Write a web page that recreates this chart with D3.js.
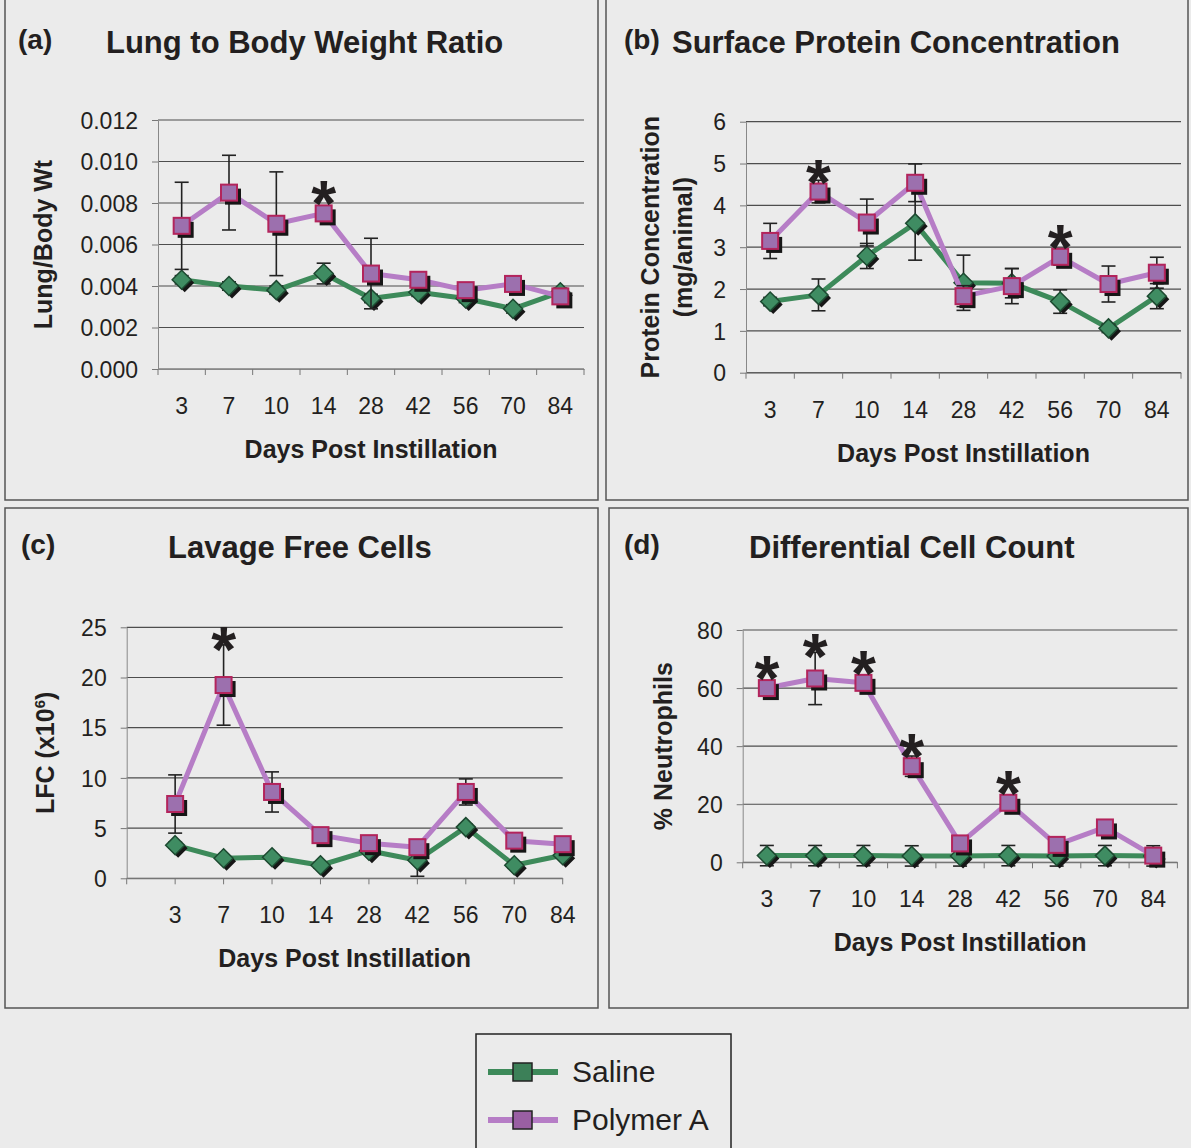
<!DOCTYPE html>
<html>
<head>
<meta charset="utf-8">
<script src="https://cdn.jsdelivr.net/npm/d3@7"></script>
<style>
  body { margin: 0; background: #ebebeb; }
  svg { display: block; }
  text { font-family: "Liberation Sans", Arial, sans-serif; fill: #231f20; }
</style>
</head>
<body>
<div id="chart"></div>
<script>
// categories (days post instillation)
var days = ["3", "7", "10", "14", "28", "42", "56", "70", "84"];
var seriesNames = ["Saline", "Polymer A"];

// (a) lung to body weight ratio
var lungSaline = [0.0043, 0.0040, 0.0038, 0.0046, 0.0034, 0.0037, 0.0034, 0.0029, 0.0037];
var lungSalineErr = [0.0002, 0.0002, 0.0002, 0.0005, 0.0002, 0.0002, 0.0002, 0.0002, 0.0002];
var lungPolymer = [0.0069, 0.0085, 0.0070, 0.0075, 0.0046, 0.0043, 0.0038, 0.0041, 0.0035];
var lungPolymerErr = [0.0021, 0.0018, 0.0025, 0.0003, 0.0017, 0.0003, 0.0002, 0.0003, 0.0002];
var lungStars = ["14"];
var lungTicks = [0, 0.002, 0.004, 0.006, 0.008, 0.010, 0.012];

// (b) surface protein concentration
var proteinSaline = [1.70, 1.86, 2.79, 3.57, 2.15, 2.14, 1.70, 1.06, 1.83];
var proteinSalineErr = [0.10, 0.38, 0.30, 0.88, 0.66, 0.35, 0.28, 0.10, 0.30];
var proteinPolymer = [3.15, 4.33, 3.59, 4.54, 1.83, 2.07, 2.77, 2.12, 2.39];
var proteinPolymerErr = [0.42, 0.27, 0.56, 0.45, 0.25, 0.42, 0.20, 0.43, 0.37];
var proteinStars = ["7", "56"];
var proteinTicks = [0, 1, 2, 3, 4, 5, 6];

// (c) lavage free cells
var lfcSaline = [3.3, 2.0, 2.1, 1.3, 2.75, 1.8, 5.1, 1.3, 2.3];
var lfcSalineErr = [0.3, 0.2, 0.2, 0.3, 0.3, 1.6, 0.3, 0.3, 0.3];
var lfcPolymer = [7.4, 19.25, 8.6, 4.3, 3.5, 3.1, 8.6, 3.75, 3.4];
var lfcPolymerErr = [2.9, 4.0, 2.0, 0.4, 0.3, 0.5, 1.3, 0.4, 0.3];
var lfcStars = ["7"];
var lfcTicks = [0, 5, 10, 15, 20, 25];

// (d) differential cell count
var neutSaline = [2.3, 2.3, 2.3, 2.2, 2.2, 2.3, 2.2, 2.3, 2.2];
var neutSalineErr = [3.5, 3.5, 3.5, 3.5, 3.5, 3.5, 3.5, 3.5, 3.5];
var neutPolymer = [60, 63.3, 61.8, 33.1, 6.5, 20.5, 6.0, 12.0, 2.3];
var neutPolymerErr = [1.5, 9, 1.5, 3.5, 1, 1.5, 1, 1.5, 0.5];
var neutStars = ["3", "7", "10", "14", "42"];
var neutTicks = [0, 20, 40, 60, 80];

var svg = d3.select("#chart").append("svg")
  .attr("width", 1191)
  .attr("height", 1148);

svg.append("rect").attr("width", 1191).attr("height", 1148).attr("fill", "#ebebeb");

var panels = [
  {letter: "(a)", title: "Lung to Body Weight Ratio", box: [5, -5, 598, 500],
   lx: 18, tx: 106, ty: 53, x0: 158, x1: 584, y0: 369, y1: 120, mode: "band",
   ticks: lungTicks, fmt: d3.format(".3f"), ylab: ["Lung/Body Wt"], ylabX: [52],
   saline: lungSaline, salineErr: lungSalineErr, polymer: lungPolymer, polymerErr: lungPolymerErr, stars: lungStars},
  {letter: "(b)", title: "Surface Protein Concentration", box: [606, -5, 1188, 500],
   lx: 624, tx: 672, ty: 53, x0: 746, x1: 1181, y0: 372.7, y1: 121.7, mode: "band",
   ticks: proteinTicks, fmt: d3.format("d"), ylab: ["Protein Concentration", "(mg/animal)"], ylabX: [659, 692],
   saline: proteinSaline, salineErr: proteinSalineErr, polymer: proteinPolymer, polymerErr: proteinPolymerErr, stars: proteinStars},
  {letter: "(c)", title: "Lavage Free Cells", box: [5, 508, 598, 1008],
   lx: 21, tx: 168, ty: 558, x0: 126.7, x1: 562.7, y0: 878.3, y1: 627.3, mode: "point",
   ticks: lfcTicks, fmt: d3.format("d"), ylab: ["LFC"], ylabX: [54],
   saline: lfcSaline, salineErr: lfcSalineErr, polymer: lfcPolymer, polymerErr: lfcPolymerErr, stars: lfcStars},
  {letter: "(d)", title: "Differential Cell Count", box: [609, 508, 1188, 1008],
   lx: 624, tx: 749, ty: 558, x0: 742.7, x1: 1177.4, y0: 862.3, y1: 630, mode: "band",
   ticks: neutTicks, fmt: d3.format("d"), ylab: ["% Neutrophils"], ylabX: [672],
   saline: neutSaline, salineErr: neutSalineErr, polymer: neutPolymer, polymerErr: neutPolymerErr, stars: neutStars}
];

panels.forEach(function(p) {
  var g = svg.append("g");

  // panel frame
  g.append("rect")
    .attr("x", p.box[0]).attr("y", p.box[1])
    .attr("width", p.box[2] - p.box[0]).attr("height", p.box[3] - p.box[1])
    .attr("fill", "none").attr("stroke", "#555").attr("stroke-width", 1.5);

  // scales
  var x;
  if (p.mode == "band") {
    x = d3.scaleBand().domain(days).range([p.x0, p.x1]);
  } else {
    // points sit on the tick marks, one empty slot before the first day
    x = d3.scalePoint().domain([""].concat(days)).range([p.x0, p.x1]);
  }
  var cx = function(d) { return p.mode == "band" ? x(d) + x.bandwidth() / 2 : x(d); };
  var y = d3.scaleLinear().domain([p.ticks[0], p.ticks[p.ticks.length - 1]]).range([p.y0, p.y1]);

  // gridlines
  g.selectAll(".grid").data(p.ticks).enter().append("line")
    .attr("x1", p.x0).attr("x2", p.x1)
    .attr("y1", function(d) { return y(d); }).attr("y2", function(d) { return y(d); })
    .attr("stroke", "#4d4d4d").attr("stroke-width", 1.2);

  // y axis
  var yAxis = g.append("g")
    .attr("transform", "translate(" + p.x0 + ",0)")
    .call(d3.axisLeft(y).tickValues(p.ticks).tickFormat(p.fmt).tickSize(6).tickSizeOuter(0));
  yAxis.select(".domain").attr("stroke", "#888");
  yAxis.selectAll(".tick line").attr("stroke", "#777");
  yAxis.selectAll(".tick text")
    .attr("x", -20).attr("dy", "0.36em")
    .style("font-size", "23px").style("font-family", null).attr("fill", "#231f20");

  // x axis: labels, then tick marks at boundaries
  var xAxis = g.append("g")
    .attr("transform", "translate(0," + p.y0 + ")")
    .call(d3.axisBottom(x).tickSize(0).tickFormat(function(d) { return d; }));
  xAxis.select(".domain").attr("stroke", "#888");
  xAxis.selectAll(".tick").attr("transform", function(d) { return "translate(" + cx(d) + ",0)"; });
  xAxis.selectAll(".tick text")
    .attr("y", 45).attr("dy", null)
    .style("font-size", "23px").style("font-family", null).attr("fill", "#231f20");

  var tickPos = p.mode == "band"
    ? days.map(function(d) { return x(d); }).concat([p.x1])
    : x.domain().map(function(d) { return x(d); });
  g.selectAll(".xt").data(tickPos).enter().append("line")
    .attr("x1", function(d) { return d; }).attr("x2", function(d) { return d; })
    .attr("y1", p.y0).attr("y2", p.y0 + 6)
    .attr("stroke", "#777").attr("stroke-width", 1);

  // titles
  g.append("text").attr("x", p.lx).attr("y", p.ty - 4)
    .style("font-size", "28px").style("font-weight", "bold").text(p.letter);
  g.append("text").attr("x", p.tx).attr("y", p.ty)
    .style("font-size", "31px").style("font-weight", "bold").text(p.title);
  g.append("text").attr("x", (p.x0 + p.x1) / 2).attr("y", p.y0 + 89)
    .attr("text-anchor", "middle")
    .style("font-size", "25px").style("font-weight", "bold").text("Days Post Instillation");

  var midY = (p.y0 + p.y1) / 2;
  p.ylab.forEach(function(lab, i) {
    var t = g.append("text")
      .attr("transform", "translate(" + p.ylabX[i] + "," + midY + ") rotate(-90)")
      .attr("text-anchor", "middle")
      .style("font-size", "25px").style("font-weight", "bold");
    if (p.letter == "(c)") {
      t.append("tspan").text("LFC (x10");
      t.append("tspan").attr("dy", -9).style("font-size", "15px").text("6");
      t.append("tspan").attr("dy", 9).text(")");
    } else {
      t.text(lab);
    }
  });

  // series
  var series = [
    {vals: p.saline, err: p.salineErr, line: "#3d8a5a", kind: "diamond"},
    {vals: p.polymer, err: p.polymerErr, line: "#b67dc6", kind: "square"}
  ];

  series.forEach(function(s) {
    var pts = days.map(function(d, i) { return {day: d, v: s.vals[i], e: s.err[i]}; });

    var line = d3.line()
      .x(function(d) { return cx(d.day); })
      .y(function(d) { return y(d.v); });
    g.append("path").datum(pts)
      .attr("d", line).attr("fill", "none")
      .attr("stroke", s.line).attr("stroke-width", 5).attr("stroke-linejoin", "round");

    // error bars
    var eb = g.selectAll(null).data(pts).enter().append("g")
      .attr("stroke", "#222").attr("stroke-width", 1.6);
    eb.append("line")
      .attr("x1", function(d) { return cx(d.day); }).attr("x2", function(d) { return cx(d.day); })
      .attr("y1", function(d) { return y(d.v - d.e); }).attr("y2", function(d) { return y(d.v + d.e); });
    eb.append("line")
      .attr("x1", function(d) { return cx(d.day) - 7; }).attr("x2", function(d) { return cx(d.day) + 7; })
      .attr("y1", function(d) { return y(d.v + d.e); }).attr("y2", function(d) { return y(d.v + d.e); });
    eb.append("line")
      .attr("x1", function(d) { return cx(d.day) - 7; }).attr("x2", function(d) { return cx(d.day) + 7; })
      .attr("y1", function(d) { return y(d.v - d.e); }).attr("y2", function(d) { return y(d.v - d.e); });

    // markers with drop shadow
    var m = g.selectAll(null).data(pts).enter().append("g")
      .attr("transform", function(d) { return "translate(" + cx(d.day) + "," + y(d.v) + ")"; });
    if (s.kind == "square") {
      m.append("rect").attr("x", -8 + 4).attr("y", -8 + 4).attr("width", 16).attr("height", 16)
        .attr("fill", "#161616");
      m.append("rect").attr("x", -8).attr("y", -8).attr("width", 16).attr("height", 16)
        .attr("fill", "#9c70ae").attr("stroke", "#b3245c").attr("stroke-width", 2);
    } else {
      var dia = "M0,-9.5L9.5,0L0,9.5L-9.5,0Z";
      m.append("path").attr("d", dia).attr("transform", "translate(3,3)").attr("fill", "#161616");
      m.append("path").attr("d", dia)
        .attr("fill", "#3f8c62").attr("stroke", "#1d4a31").attr("stroke-width", 1.5);
    }
  });

  // significance stars
  p.stars.forEach(function(d) {
    var i = days.indexOf(d);
    var v = p.polymer[i], e = p.polymerErr[i];
    var cy = Math.min(y(v) - 24, y(v + e) - 10);
    g.append("text").attr("x", cx(d)).attr("y", cy + 37)
      .attr("text-anchor", "middle")
      .style("font-size", "64px").style("font-weight", "bold").text("*");
  });
});

// legend
var legend = svg.append("g");
legend.append("rect").attr("x", 476).attr("y", 1034).attr("width", 255).attr("height", 140)
  .attr("fill", "#ebebeb").attr("stroke", "#222").attr("stroke-width", 1.5);

var legendColors = [{line: "#3d8a5a", fill: "#3c8058"}, {line: "#b67dc6", fill: "#9a5fa3"}];
seriesNames.forEach(function(name, i) {
  var ly = 1072 + i * 48;
  legend.append("line").attr("x1", 488).attr("x2", 558).attr("y1", ly).attr("y2", ly)
    .attr("stroke", legendColors[i].line).attr("stroke-width", 6);
  legend.append("rect").attr("x", 513).attr("y", ly - 9).attr("width", 19).attr("height", 18)
    .attr("fill", legendColors[i].fill).attr("stroke", "#222").attr("stroke-width", 1.5);
  legend.append("text").attr("x", 572).attr("y", ly + 10)
    .style("font-size", "30px").text(name);
});
</script>
</body>
</html>
